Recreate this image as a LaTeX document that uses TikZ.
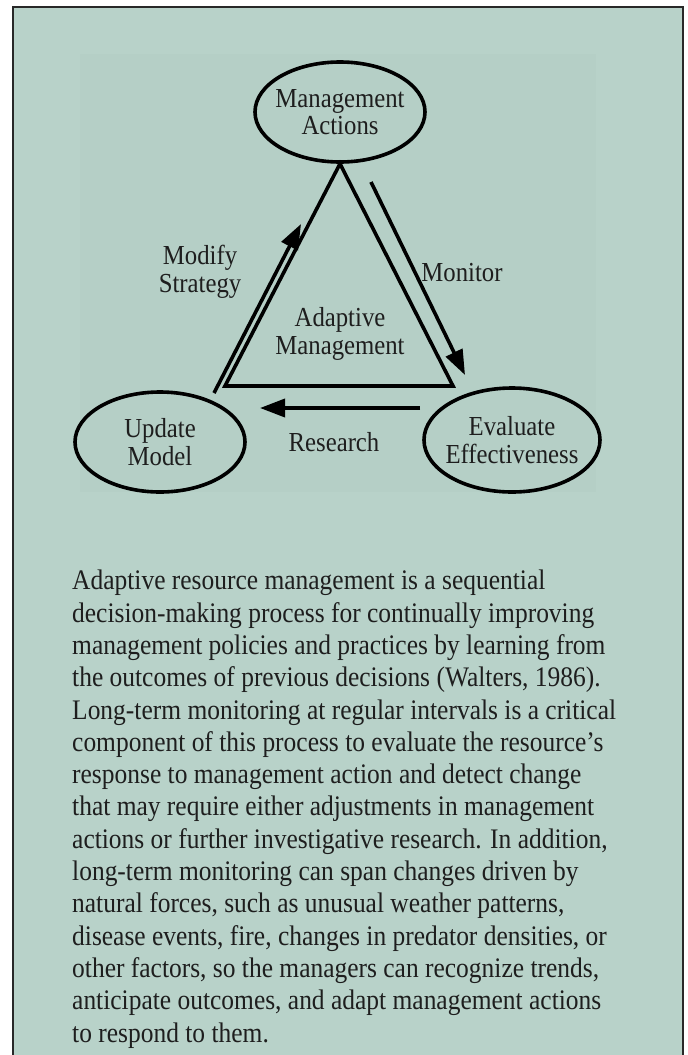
\documentclass[tikz,border=0pt]{standalone}
\usepackage{fontspec}
\setmainfont{Liberation Serif}[FakeStretch=0.9]
\usetikzlibrary{arrows.meta,shapes.geometric}
\definecolor{panel}{RGB}{184,210,201}
\definecolor{panelinner}{RGB}{181,207,198}
\definecolor{frame}{RGB}{40,40,40}
\definecolor{ink}{RGB}{30,30,30}
\tikzset{
  stage/.style={draw=black, line width=3.6pt, ellipse, minimum width=170pt, minimum height=100pt,
    inner xsep=-40pt, inner ysep=-20pt, align=center, text=ink, font=\fontsize{27.5}{27.5}\selectfont},
  lbl/.style={align=center, text=ink, font=\fontsize{27.5}{27.5}\selectfont, inner sep=0pt},
  edge/.style={line width=3.6pt, line join=miter},
  flow/.style={line width=3.6pt, -{Triangle[length=25pt,width=18pt]}},
}
\begin{document}
\begin{tikzpicture}[x=1pt,y=-1pt]
\useasboundingbox (0,0) rectangle (688,1055);
% panel with its frame (open at the bottom)
\fill[panel] (13,7) rectangle (683,1060);
\draw[frame, line width=2.2pt] (13,1060) -- (13,7) -- (683,7) -- (683,1060);
\fill[panelinner] (80,54) rectangle (596,492);

% the three stages of the cycle
\node[stage] (act) at (340,112) {Management\\Actions};
\node[stage] (upd) at (160,442) {Update\\Model};
\node[stage, minimum width=176pt, minimum height=104pt] (eva) at (512,440) {Evaluate\\Effectiveness};

% central triangle
\coordinate (apex) at (act.south);
\coordinate (bl) at (225,386);
\coordinate (br) at (453,386);
\draw[edge] (apex) -- (bl) -- (br) -- cycle;
\node[lbl] (core) at (340,334) {Adaptive\\Management};

% arrows around the triangle
\coordinate (m0) at (214,393);
\coordinate (m1) at (301,224);
\coordinate (n0) at (371,182);
\coordinate (n1) at (465,375);
\coordinate (r0) at (420,408);
\coordinate (r1) at (260,408);
\draw[flow] (m0) -- (m1);
\draw[flow] (n0) -- (n1);
\draw[flow] (r0) -- (r1);
\node[lbl] (modify) at (200,272) {Modify\\Strategy};
\node[lbl] (monitor) at (462,273) {Monitor};
\node[lbl] (research) at (334,442) {Research};

% explanatory paragraph
\node[anchor=north west, inner sep=0pt, align=left,
      font=\fontsize{28.3}{32.3}\selectfont, text=ink] (para) at (72,570) {%
Adaptive resource management is a sequential\\
decision-making process for continually improving\\
management policies and practices by learning from\\
the outcomes of previous decisions (Walters, 1986).\\
Long-term monitoring at regular intervals is a critical\\
component of this process to evaluate the resource’s\\
response to management action and detect change\\
that may require either adjustments in management\\
actions or further investigative research. In addition,\\
long-term monitoring can span changes driven by\\
natural forces, such as unusual weather patterns,\\
disease events, fire, changes in predator densities, or\\
other factors, so the managers can recognize trends,\\
anticipate outcomes, and adapt management actions\\
to respond to them.};
\end{tikzpicture}
\end{document}
